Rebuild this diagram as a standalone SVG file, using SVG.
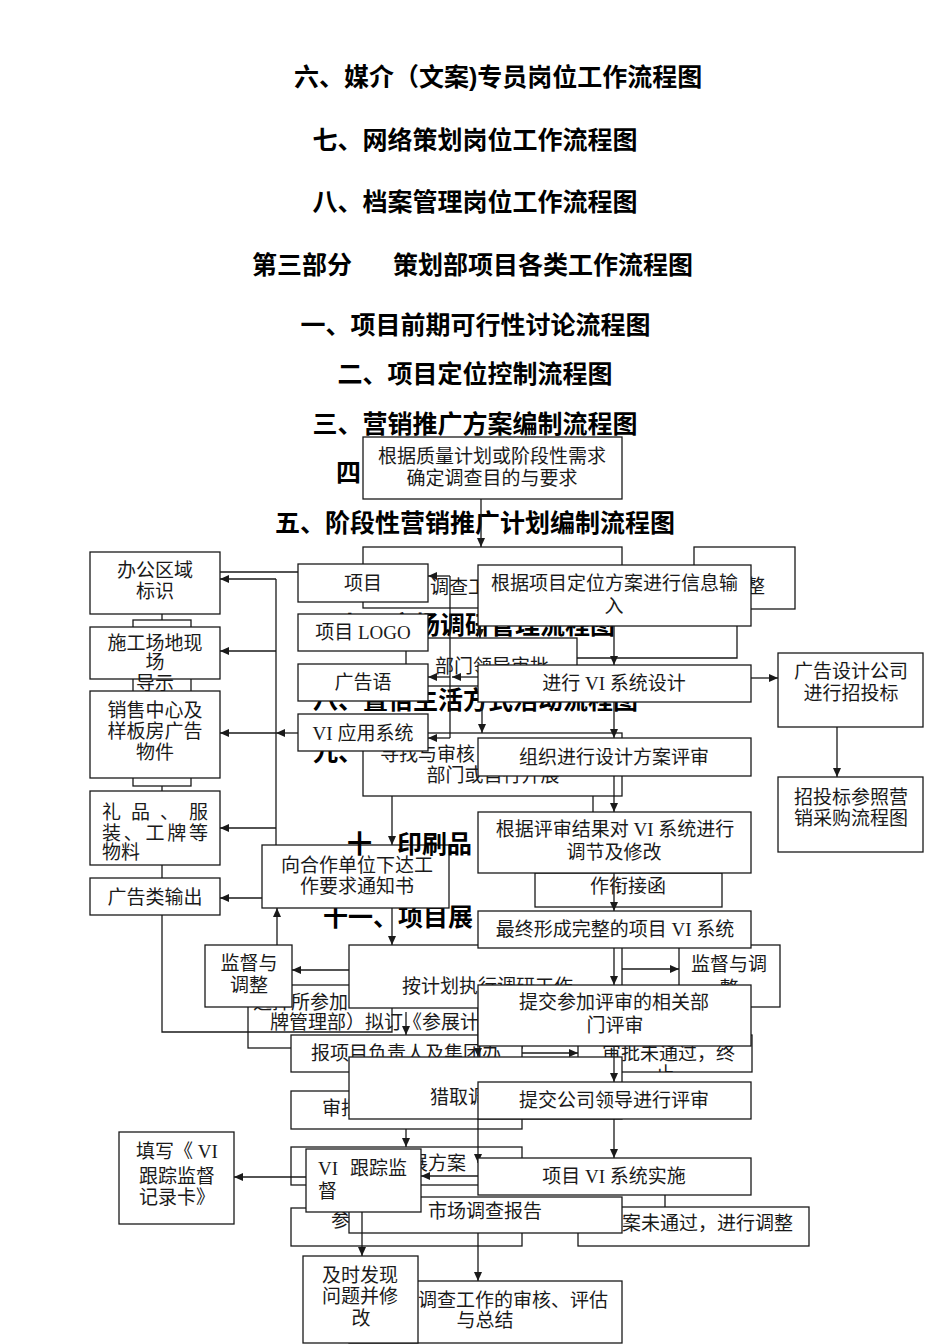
<svg xmlns="http://www.w3.org/2000/svg" width="950" height="1344" viewBox="0 0 950 1344">
<style>
.b{fill:#fff;stroke:#1a1a1a;stroke-width:1.3}
.t{font-family:"Liberation Serif","Noto Sans CJK SC",serif;font-size:19px;fill:#1a1a1a}
.m{text-anchor:middle}
.h{font-family:"Liberation Sans","Noto Sans CJK SC",sans-serif;font-size:25px;font-weight:bold;fill:#000}
.c{fill:none;stroke:#1a1a1a;stroke-width:1.3}
.a{fill:none;stroke:#1a1a1a;stroke-width:1.3;marker-end:url(#ah)}
</style>
<defs>
<marker id="ah" markerUnits="userSpaceOnUse" markerWidth="9" markerHeight="8" refX="9" refY="4" orient="auto"><path d="M0,0 L9,4 L0,8 z" fill="#1a1a1a"/></marker>
<clipPath id="clipShen"><rect x="578" y="1035" width="174" height="37"/></clipPath>
</defs>
<rect width="950" height="1344" fill="#fff"/>

<g id="headings">
<text class="h" x="294" y="86">六、媒介（文案)专员岗位工作流程图</text>
<text class="h m" x="475" y="149">七、网络策划岗位工作流程图</text>
<text class="h m" x="475" y="211">八、档案管理岗位工作流程图</text>
<text class="h" x="252" y="274">第三部分</text>
<text class="h" x="393" y="274">策划部项目各类工作流程图</text>
<text class="h m" x="475.5" y="334">一、项目前期可行性讨论流程图</text>
<text class="h m" x="475" y="383">二、项目定位控制流程图</text>
<text class="h m" x="475" y="433">三、营销推广方案编制流程图</text>
<text class="h" x="336" y="482">四</text>
<text class="h m" x="475" y="532">五、阶段性营销推广计划编制流程图</text>
<text class="h" x="340" y="634">七、市场调研管理流程图</text>
<text class="h" x="313" y="709">八、置佰生活方式活动流程图</text>
<text class="h" x="313" y="761">九、</text>
<text class="h" x="323" y="926">十一、项目展</text>
</g>

<!-- exhibition flow (lowest layer) -->
<g id="zh-select"><rect class="b" x="248" y="985" width="274" height="63"/>
<text class="t" x="253" y="1009">选择所参加</text>
<text class="t" x="270" y="1029">牌管理部）拟订《参展计划》</text></g>
<g id="zh-report"><rect class="b" x="291" y="1035" width="231" height="37"/>
<text class="t m" x="406" y="1060">报项目负责人及集团办</text></g>
<g id="zh-stop"><rect class="b" x="578" y="1035" width="174" height="37"/>
<g clip-path="url(#clipShen)"><text class="t" x="602" y="1060">审批未通过，终</text>
<text class="t m" x="665" y="1081">止</text></g></g>
<g id="zh-approve"><rect class="b" x="291" y="1091" width="231" height="38"/>
<text class="t" x="322" y="1115">审批</text></g>
<g id="zh-plan"><rect class="b" x="291" y="1147" width="231" height="38"/>
<text class="t" x="390" y="1170">参展方案</text></g>
<g id="zh-join"><rect class="b" x="291" y="1208" width="231" height="38"/>
<text class="t" x="331" y="1227">参展</text></g>
<g id="zh-adjust"><rect class="b" x="578" y="1207" width="231" height="39"/>
<text class="t" x="603" y="1230">方案未通过，进行调整</text></g>
<g id="zh-letter"><rect class="b" x="535" y="873" width="187" height="34"/>
<text class="t m" x="628" y="893">作衔接函</text></g>
<g id="zh-connectors">
<path class="a" d="M406,1012 V1035"/>
<path class="a" d="M522,1053 H578"/>
<path class="a" d="M406,1129 V1147"/>
<path class="c" d="M665,1195 V1207"/>
</g>

<!-- market survey flow -->
<g id="dc-goal"><rect class="b" x="363" y="437" width="259" height="62"/>
<text class="t m" x="492" y="463">根据质量计划或阶段性需求</text>
<text class="t m" x="492" y="485">确定调查目的与要求</text></g>
<g id="dc-plan"><rect class="b" x="363" y="547" width="259" height="61"/>
<text class="t" x="430" y="594">调查工</text></g>
<g id="dc-adjust"><rect class="b" x="694" y="547" width="101" height="62"/>
<text class="t m" x="746" y="593">调整</text></g>
<g id="dc-leader"><rect class="b" x="406" y="638" width="171" height="48"/>
<text class="t m" x="492" y="673">部门领导审批</text></g>
<g id="dc-find"><rect class="b" x="363" y="733" width="259" height="63"/>
<text class="t" x="380" y="761">寻找与审核</text>
<text class="t m" x="493" y="782">部门或自行开展</text></g>
<g id="dc-exec"><rect class="b" x="349" y="945" width="273" height="63"/>
<text class="t" x="402" y="993">按计划执行调研工作</text></g>
<g id="dc-supervise"><rect class="b" x="679" y="945" width="101" height="62"/>
<text class="t m" x="729" y="971">监督与调</text>
<text class="t m" x="729" y="995">整</text></g>
<g id="dc-collect"><rect class="b" x="349" y="1057" width="273" height="62"/>
<text class="t" x="430" y="1104">猎取调</text></g>
<g id="dc-report"><rect class="b" x="349" y="1197" width="273" height="36"/>
<text class="t m" x="485" y="1218">市场调查报告</text></g>
<g id="dc-review"><rect class="b" x="349" y="1281" width="273" height="62"/>
<text class="t" text-anchor="end" x="608" y="1307">调查工作的审核、评估</text>
<text class="t m" x="485" y="1327">与总结</text></g>
<g id="dc-connectors">
<path class="a" d="M481,499 V547"/>
<path class="a" d="M480,608 V638"/>
<path class="c" d="M577,658 H737 V609"/>
<path class="a" d="M482,686 V733"/>
<path class="c" d="M593,796 V812"/>
<path class="a" d="M392,796 V845"/>
<path class="a" d="M392,908 V945"/>
<path class="a" d="M622,969 H679"/>
<path class="a" d="M349,970 H292"/>
<path class="a" d="M478,1008 V1057"/>
<path class="a" d="M478,1119 V1163"/>
<path class="a" d="M478,1233 V1281"/>
</g>

<!-- VI flow (top layer) -->
<g id="vi-connectors">
<rect class="c" x="133" y="620" width="58" height="166"/>
<path class="c" d="M162,614 V620 M162,786 V791 M162,865 V878"/>
<path class="c" d="M220,572 H298"/>
<path class="c" d="M276,579 V898"/>
<path class="a" d="M276,579 H220"/>
<path class="a" d="M276,651 H220"/>
<path class="a" d="M276,733 H220"/>
<path class="a" d="M276,828 H220"/>
<path class="a" d="M276,898 H220"/>
<path class="a" d="M298,733 H276"/>
<path class="c" d="M450,576 V738"/>
<path class="a" d="M450,576 H428"/>
<path class="a" d="M450,677 H428"/>
<path class="a" d="M450,738 H428"/>
<path class="a" d="M478,677 H452"/>
<path class="a" d="M614,626 V665"/>
<path class="a" d="M614,702 V738"/>
<path class="a" d="M614,776 V812"/>
<path class="a" d="M614,873 V911"/>
<path class="a" d="M614,948 V985"/>
<path class="a" d="M614,1046 V1082"/>
<path class="a" d="M614,1119 V1158"/>
<path class="a" d="M751,678 H778"/>
<path class="a" d="M837,727 V777"/>
<path class="a" d="M277,945 V908"/>
<path class="a" d="M478,1176 H421"/>
<path class="a" d="M306,1177 H234"/>
<path class="a" d="M362,1212 V1256"/>
</g>
<g id="vi-office"><rect class="b" x="90" y="552" width="130" height="62"/>
<text class="t m" x="155" y="577">办公区域</text><text class="t m" x="155" y="598">标识</text></g>
<g id="vi-site"><rect class="b" x="90" y="627" width="130" height="52"/>
<text class="t m" x="155" y="650">施工场地现</text><text class="t m" x="155" y="669">场</text><text class="t m" x="155" y="690">导示</text></g>
<g id="vi-sales"><rect class="b" x="90" y="691" width="130" height="87"/>
<text class="t m" x="155" y="717">销售中心及</text><text class="t m" x="155" y="738">样板房广告</text><text class="t m" x="155" y="759">物件</text></g>
<g id="vi-gift"><rect class="b" x="90" y="791" width="130" height="74"/>
<text class="t" x="102 131 160 189" y="819">礼品、服</text>
<text class="t" x="102 123.75 145.5 167.25 189" y="840">装、工牌等</text>
<text class="t" x="102" y="859">物料</text></g>
<g id="vi-adout"><rect class="b" x="90" y="878" width="130" height="37"/>
<text class="t m" x="155" y="904">广告类输出</text></g>
<g id="vi-project"><rect class="b" x="298" y="564" width="130" height="38"/>
<text class="t m" x="363" y="590">项目</text></g>
<g id="vi-logo"><rect class="b" x="298" y="614" width="130" height="37"/>
<text class="t m" x="363" y="639">项目 LOGO</text></g>
<g id="vi-slogan"><rect class="b" x="298" y="664" width="130" height="37"/>
<text class="t m" x="363" y="689">广告语</text></g>
<g id="vi-apply"><rect class="b" x="298" y="714" width="130" height="37"/>
<text class="t m" x="363" y="740">VI 应用系统</text></g>
<g id="vi-input"><rect class="b" x="478" y="565" width="273" height="61"/>
<text class="t m" x="614.5" y="590">根据项目定位方案进行信息输</text><text class="t m" x="614" y="613">入</text></g>
<g id="vi-design"><rect class="b" x="478" y="665" width="273" height="37"/>
<text class="t m" x="614" y="690">进行 VI 系统设计</text></g>
<g id="vi-bid"><rect class="b" x="778" y="653" width="145" height="74"/>
<text class="t m" x="851" y="678">广告设计公司</text><text class="t m" x="851" y="700">进行招投标</text></g>
<g id="vi-bidref"><rect class="b" x="778" y="777" width="145" height="75"/>
<text class="t m" x="851" y="804">招投标参照营</text><text class="t m" x="851" y="825">销采购流程图</text></g>
<g id="vi-review"><rect class="b" x="478" y="738" width="273" height="38"/>
<text class="t m" x="614" y="764">组织进行设计方案评审</text></g>
<g id="vi-modify"><rect class="b" x="478" y="812" width="273" height="61"/>
<text class="t m" x="615" y="836">根据评审结果对 VI 系统进行</text><text class="t m" x="614" y="859">调节及修改</text></g>
<g id="vi-final"><rect class="b" x="478" y="911" width="273" height="37"/>
<text class="t m" x="615" y="936">最终形成完整的项目 VI 系统</text></g>
<g id="vi-dept"><rect class="b" x="478" y="985" width="273" height="61"/>
<text class="t m" x="614" y="1009">提交参加评审的相关部</text><text class="t m" x="615" y="1032">门评审</text></g>
<g id="vi-leader"><rect class="b" x="478" y="1082" width="273" height="37"/>
<text class="t m" x="614" y="1107">提交公司领导进行评审</text></g>
<g id="vi-impl"><rect class="b" x="478" y="1158" width="273" height="37"/>
<text class="t m" x="614" y="1183">项目 VI 系统实施</text></g>
<g id="vi-notice"><rect class="b" x="262" y="845" width="187" height="63"/>
<text class="t m" x="357" y="872">向合作单位下达工</text><text class="t m" x="357" y="893">作要求通知书</text></g>
<g id="vi-supervise"><rect class="b" x="205" y="945" width="87" height="62"/>
<text class="t m" x="249" y="970">监督与</text><text class="t m" x="249" y="992">调整</text></g>
<g id="vi-track"><rect class="b" x="306" y="1149" width="115" height="63"/>
<text class="t" y="1175"><tspan x="318">VI</tspan><tspan x="350 369 388">跟踪监</tspan></text>
<text class="t" x="318" y="1198">督</text></g>
<g id="vi-card"><rect class="b" x="119" y="1132" width="115" height="92"/>
<text class="t m" x="177" y="1158">填写《 VI</text><text class="t m" x="177" y="1183">跟踪监督</text><text class="t m" x="177" y="1204">记录卡》</text></g>
<g id="vi-fix"><rect class="b" x="303" y="1256" width="115" height="87"/>
<text class="t m" x="360" y="1282">及时发现</text><text class="t m" x="360" y="1303">问题并修</text><text class="t m" x="361" y="1325">改</text></g>
<g id="vi-extra-connectors">
<path class="c" d="M162,915 V1032 H392 V1008"/>
</g>
<g id="heading-ten"><text class="h" x="347" y="853">十</text><text class="h" x="397" y="853">印刷品</text></g>
</svg>
